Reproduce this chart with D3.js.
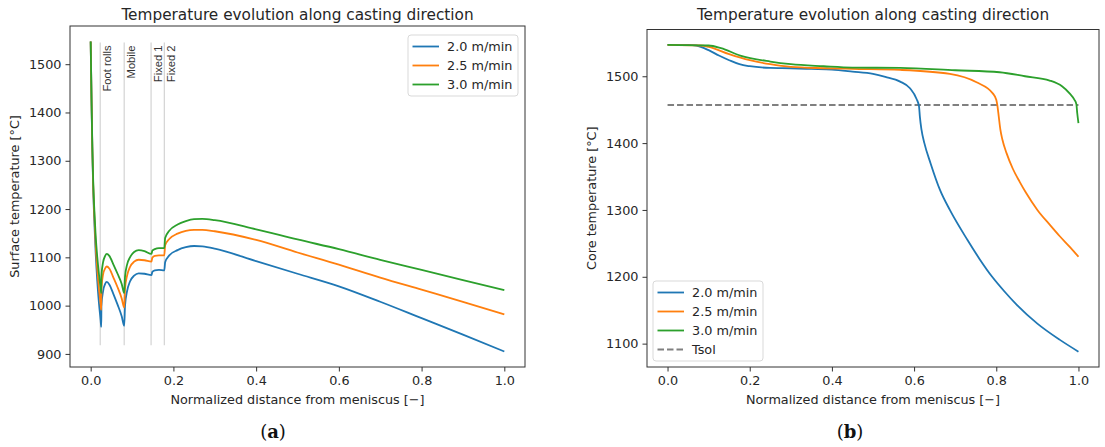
<!DOCTYPE html>
<html>
<head>
<meta charset="utf-8">
<script src="https://cdn.jsdelivr.net/npm/d3@7"></script>
<style>
  body { margin: 0; background: #fff; }
  text { font-family: "DejaVu Sans", sans-serif; fill: #262626; }
</style>
</head>
<body>
<svg width="1105" height="447"></svg>
<script>
const speeds = ["2.0 m/min", "2.5 m/min", "3.0 m/min"];
const colors = ["#1f77b4", "#ff7f0e", "#2ca02c"];

// (a) surface temperature, shared x grid
const surfX = [0, 0.002, 0.004, 0.006, 0.009, 0.012, 0.016, 0.02, 0.024, 0.0255, 0.026, 0.03, 0.035, 0.039,
  0.045, 0.055, 0.065, 0.075, 0.081, 0.083, 0.088, 0.095, 0.105, 0.116, 0.13, 0.147, 0.149, 0.155, 0.165,
  0.178, 0.18, 0.19, 0.21, 0.23, 0.25, 0.27, 0.3, 0.4, 0.5, 0.6, 0.7, 0.8, 0.9, 1.0];
const surf20 = [1547, 1425, 1320, 1245, 1170, 1110, 1050, 1005, 970, 956, 1000, 1030, 1045, 1049,
  1044, 1024, 1002, 978, 958, 1000, 1030, 1050, 1062, 1067, 1066, 1063, 1070, 1073, 1074,
  1073, 1090, 1104, 1115, 1121, 1123.5, 1122.5, 1118, 1092, 1066, 1040, 1008, 974, 940, 905];
const surf25 = [1547, 1428, 1325, 1252, 1183, 1128, 1075, 1035, 1003, 991, 1035, 1065, 1077, 1081,
  1077, 1058, 1038, 1015, 996, 1035, 1062, 1080, 1091, 1095, 1094, 1091, 1099, 1103, 1104,
  1104, 1125, 1138, 1149, 1155, 1157, 1157, 1154, 1136, 1110, 1085, 1058, 1033, 1008, 982];
const surf30 = [1547, 1430, 1330, 1260, 1195, 1145, 1100, 1065, 1036, 1026, 1062, 1090, 1103, 1107,
  1103, 1085, 1066, 1045, 1026, 1060, 1085, 1100, 1111, 1115, 1113, 1107, 1114, 1117, 1119,
  1119, 1140, 1155, 1168, 1175, 1179, 1179.5, 1177, 1158, 1137, 1117, 1095, 1074, 1053, 1032];

const zoneX = [0.023, 0.081, 0.146, 0.178];
const zoneNames = ["Foot rolls", "Mobile", "Fixed 1", "Fixed 2"];
const zoneSpan = [918, 1545];

// (b) core temperature
const core20X = [0, 0.05, 0.07, 0.1, 0.125, 0.15, 0.175, 0.2, 0.25, 0.3, 0.35, 0.4, 0.45, 0.5, 0.53, 0.566,
  0.59, 0.606, 0.612, 0.614, 0.618, 0.625, 0.64, 0.663, 0.687, 0.73, 0.76, 0.79, 0.82, 0.85, 0.9, 0.954, 1.0];
const core20 = [1547, 1547, 1546, 1539, 1531, 1524, 1518, 1515, 1512.5, 1512, 1511, 1510, 1507, 1503.5, 1499, 1492,
  1482, 1466, 1455, 1440, 1420, 1400, 1370, 1330, 1300, 1255, 1226, 1200, 1178, 1158, 1130, 1106, 1088];
const core25X = [0, 0.08, 0.1, 0.15, 0.2, 0.25, 0.3, 0.38, 0.45, 0.566, 0.687, 0.752, 0.792, 0.8, 0.803,
  0.806, 0.81, 0.815, 0.825, 0.84, 0.857, 0.872, 0.9, 0.93, 0.954, 0.98, 1.0];
const core25 = [1547, 1546, 1544, 1533, 1524, 1518, 1514, 1512, 1511, 1509.5, 1503.6, 1491, 1474, 1465, 1455,
  1440, 1420, 1405, 1385, 1362, 1342, 1326, 1300, 1278, 1261, 1244, 1230];
const core30X = [0, 0.1, 0.13, 0.177, 0.25, 0.3, 0.38, 0.45, 0.566, 0.7, 0.808, 0.87, 0.93, 0.96, 0.979,
  0.99, 0.995, 0.997, 1.0];
const core30 = [1547, 1546, 1542, 1531, 1522, 1518, 1515, 1513, 1512.5, 1509, 1506, 1500, 1493.6, 1485, 1474,
  1465, 1458, 1445, 1430];
const tsol = 1457;

const xTicks = [0, 0.2, 0.4, 0.6, 0.8, 1.0];
const surfTicks = [900, 1000, 1100, 1200, 1300, 1400, 1500];
const coreTicks = [1100, 1200, 1300, 1400, 1500];

const svg = d3.select("svg");

// matplotlib style 5% margins
const padded = ([lo, hi]) => [lo - (hi - lo) * 0.05, hi + (hi - lo) * 0.05];

function drawPanel(opt) {
  const x = d3.scaleLinear().domain(padded([0, 1])).range([opt.left, opt.right]);
  const allY = opt.series.flatMap(s => s.y);
  const y = d3.scaleLinear().domain(padded(d3.extent(allY))).range([opt.bottom, opt.top]);
  const g = svg.append("g");

  const line = d3.line().x(d => x(d[0])).y(d => y(d[1])).curve(d3.curveMonotoneX);

  if (opt.zones) {
    opt.zones.forEach((zx, i) => {
      g.append("line")
        .attr("x1", x(zx)).attr("x2", x(zx))
        .attr("y1", y(zoneSpan[0])).attr("y2", y(zoneSpan[1]))
        .attr("stroke", "#cfcfcf").attr("stroke-width", 1.1);
      g.append("text")
        .attr("transform", `translate(${x(zx) + 10.5},${y(zoneSpan[1]) + 3}) rotate(-90)`)
        .attr("text-anchor", "end")
        .style("font-family", "'Liberation Sans', Arial, sans-serif")
        .style("font-size", "11.2px")
        .style("fill", "#333")
        .text(zoneNames[i]);
    });
  }

  if (opt.hline != null) {
    g.append("line")
      .attr("x1", x(0)).attr("x2", x(1))
      .attr("y1", y(opt.hline)).attr("y2", y(opt.hline))
      .attr("stroke", "#808080").attr("stroke-width", 1.8)
      .attr("stroke-dasharray", "6.5,3");
  }

  opt.series.forEach((s, i) => {
    g.append("path")
      .datum(s.x.map((v, j) => [v, s.y[j]]))
      .attr("fill", "none")
      .attr("stroke", colors[i])
      .attr("stroke-width", 1.8)
      .attr("d", line);
  });

  // frame
  g.append("rect")
    .attr("x", opt.left).attr("y", opt.top)
    .attr("width", opt.right - opt.left).attr("height", opt.bottom - opt.top)
    .attr("fill", "none").attr("stroke", "#333").attr("stroke-width", 1);

  const xa = g.append("g").attr("transform", `translate(0,${opt.bottom})`)
    .call(d3.axisBottom(x).tickValues(xTicks).tickFormat(d3.format(".1f")).tickSizeOuter(0).tickSize(4.5).tickPadding(4));
  const ya = g.append("g").attr("transform", `translate(${opt.left},0)`)
    .call(d3.axisLeft(y).tickValues(opt.yTicks).tickFormat(d3.format("d")).tickSizeOuter(0).tickSize(4.5).tickPadding(4));
  [xa, ya].forEach(a => {
    a.select(".domain").remove();
    a.selectAll("line").attr("stroke", "#333");
    a.selectAll("text").style("font-size", "12.8px").style("font-family", "'DejaVu Sans', sans-serif").attr("fill", "#262626");
  });

  const cx = (opt.left + opt.right) / 2;
  g.append("text").attr("x", cx).attr("y", 20).attr("text-anchor", "middle")
    .style("font-size", "15.3px").text("Temperature evolution along casting direction");
  g.append("text").attr("x", cx).attr("y", 404).attr("text-anchor", "middle")
    .style("font-size", "12.8px").text("Normalized distance from meniscus [\u2212]");
  g.append("text")
    .attr("transform", `translate(${opt.ylabelX},${(opt.top + opt.bottom) / 2}) rotate(-90)`)
    .attr("text-anchor", "middle").style("font-size", "12.8px").text(opt.ylabel);

  const lt = g.append("text").attr("x", opt.letterX).attr("y", 438).attr("text-anchor", "middle")
    .style("font-family", "'DejaVu Serif', 'Liberation Serif', serif").style("font-size", "18px").style("fill", "#111");
  lt.append("tspan").text("(");
  lt.append("tspan").style("font-weight", "bold").text(opt.letter);
  lt.append("tspan").text(")");

  // legend
  const items = opt.series.map((s, i) => ({ label: speeds[i], color: colors[i], dash: null }));
  if (opt.hline != null) items.push({ label: "Tsol", color: "#808080", dash: "6.5,3" });
  const rowH = 19, lw = 110, lh = items.length * rowH + 4;
  const lx = opt.legendPos === "ur" ? opt.right - 7 - lw : opt.left + 6;
  const ly = opt.legendPos === "ur" ? opt.top + 9 : opt.bottom - 6 - lh;
  const lg = g.append("g").attr("transform", `translate(${lx},${ly})`);
  lg.append("rect").attr("width", lw).attr("height", lh).attr("rx", 3)
    .attr("fill", "#fff").attr("fill-opacity", 0.8).attr("stroke", "#d9d9d9");
  items.forEach((it, i) => {
    const yy = 11.5 + i * rowH;
    lg.append("line").attr("x1", 4.5).attr("x2", 31).attr("y1", yy).attr("y2", yy)
      .attr("stroke", it.color).attr("stroke-width", 1.8).attr("stroke-dasharray", it.dash);
    lg.append("text").attr("x", 39).attr("y", yy + 4.5).style("font-size", "12.8px").text(it.label);
  });
}

drawPanel({
  left: 70, right: 525, top: 26, bottom: 367,
  series: [{ x: surfX, y: surf20 }, { x: surfX, y: surf25 }, { x: surfX, y: surf30 }],
  yTicks: surfTicks, ylabel: "Surface temperature [\u00b0C]", ylabelX: 19,
  zones: zoneX, legendPos: "ur", letter: "a", letterX: 273
});

drawPanel({
  left: 647, right: 1099, top: 29.5, bottom: 367,
  series: [{ x: core20X, y: core20 }, { x: core25X, y: core25 }, { x: core30X, y: core30 }],
  yTicks: coreTicks, ylabel: "Core temperature [\u00b0C]", ylabelX: 596,
  hline: tsol, legendPos: "ll", letter: "b", letterX: 850
});
</script>
</body>
</html>
